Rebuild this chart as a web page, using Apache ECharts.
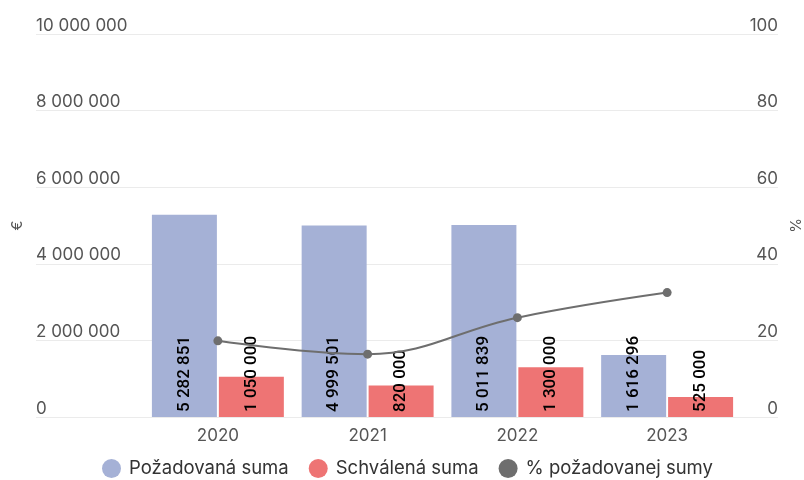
<!DOCTYPE html>
<html><head><meta charset="utf-8">
<script src="https://cdn.jsdelivr.net/npm/echarts@6/dist/echarts.min.js"></script>
<style>html,body{margin:0;padding:0;background:#fff}#c{width:804px;height:480px}</style>
</head><body><div id="c"></div>
<script>
var categories = ['2020', '2021', '2022', '2023'];
var requested = [5282851, 4999501, 5011839, 1616296];
var approved = [1050000, 820000, 1300000, 525000];
var percent = [19.88, 16.40, 25.94, 32.48];
var leftTicks = [0, 2000000, 4000000, 6000000, 8000000, 10000000];
var rightTicks = [0, 20, 40, 60, 80, 100];

function fmt(v) { return String(Math.round(v)).replace(/\B(?=(\d{3})+(?!\d))/g, ' '); }

var FONT = 'Inter';
var chart = echarts.init(document.getElementById('c'), null, {renderer: 'canvas'});
var barLabel = {
  show: true, position: 'insideBottom', rotate: 90, align: 'left', verticalAlign: 'middle',
  distance: 5, color: '#000', fontSize: 17, fontWeight: 500, fontFamily: 'Roboto',
  formatter: function (p) { return fmt(p.value); }
};
chart.setOption({
  animation: false,
  textStyle: {fontFamily: FONT},
  grid: [
    {left: 36, right: 26, top: 34, bottom: 63, outerBoundsMode: 'none', containLabel: false},
    {left: 143, right: 62, top: 34, bottom: 63, outerBoundsMode: 'none', containLabel: false}
  ],
  legend: {
    bottom: 2, left: 102, icon: 'circle', itemWidth: 19, itemHeight: 19, itemGap: 20, padding: 0,
    textStyle: {fontSize: 18.5, color: '#333', fontFamily: FONT, padding: [0, 0, 0, 3]},
    data: ['Požadovaná suma', 'Schválená suma', '% požadovanej sumy']
  },
  xAxis: [
    {type: 'category', gridIndex: 0, data: categories, show: false},
    {type: 'category', gridIndex: 1, data: categories,
     axisLine: {show: false}, axisTick: {show: false},
     axisLabel: {color: '#555', fontSize: 17, margin: 10, fontFamily: FONT}}
  ],
  yAxis: [
    {type: 'value', gridIndex: 0, position: 'left', min: leftTicks[0], max: leftTicks[leftTicks.length - 1], interval: leftTicks[1] - leftTicks[0],
     name: '€', nameLocation: 'middle', nameGap: 10, nameRotate: 90,
     nameTextStyle: {color: '#555', fontSize: 15, fontFamily: FONT},
     axisLine: {show: false}, axisTick: {show: false},
     splitLine: {lineStyle: {color: '#ebebeb', width: 1}},
     axisLabel: {inside: false, margin: 0, verticalAlign: 'bottom', align: 'left', color: '#555', fontSize: 17, fontFamily: FONT,
                 formatter: function (v) { return fmt(v); }}},
    {type: 'value', gridIndex: 0, position: 'right', min: rightTicks[0], max: rightTicks[rightTicks.length - 1], interval: rightTicks[1] - rightTicks[0],
     name: '%', nameLocation: 'middle', nameGap: 8, nameRotate: 90,
     nameTextStyle: {color: '#555', fontSize: 15, fontFamily: FONT},
     axisLine: {show: false}, axisTick: {show: false}, splitLine: {show: false},
     axisLabel: {inside: false, margin: 0, verticalAlign: 'bottom', align: 'right', color: '#555', fontSize: 17, fontFamily: FONT}},
    {type: 'value', gridIndex: 1, position: 'left', min: leftTicks[0], max: leftTicks[leftTicks.length - 1], show: false},
    {type: 'value', gridIndex: 1, position: 'right', min: rightTicks[0], max: rightTicks[rightTicks.length - 1], show: false}
  ],
  series: [
    {name: 'Požadovaná suma', type: 'bar', xAxisIndex: 1, yAxisIndex: 2, data: requested,
     barWidth: 65, barGap: '3%', itemStyle: {color: '#a5b1d6'}, label: barLabel},
    {name: 'Schválená suma', type: 'bar', xAxisIndex: 1, yAxisIndex: 2, data: approved,
     barWidth: 65, barGap: '3%', itemStyle: {color: '#ee7474'}, label: barLabel},
    {name: '% požadovanej sumy', type: 'line', xAxisIndex: 1, yAxisIndex: 3, data: percent,
     smooth: 0.4, symbol: 'circle', symbolSize: 9, z: 5,
     lineStyle: {color: '#6e6e6e', width: 2}, itemStyle: {color: '#6e6e6e'}}
  ]
});
</script></body></html>
